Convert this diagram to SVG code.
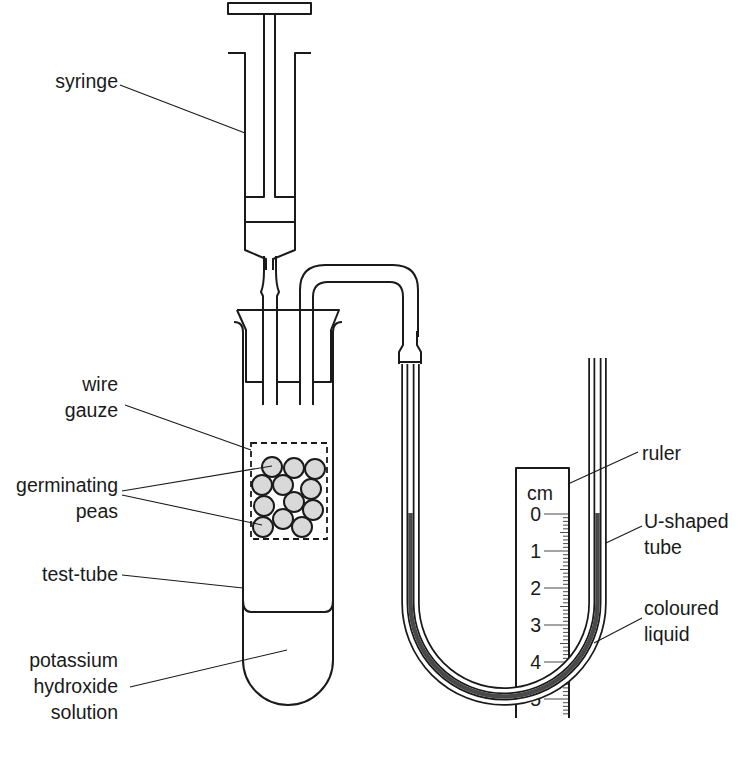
<svg xmlns="http://www.w3.org/2000/svg" width="751" height="759" viewBox="0 0 751 759">
<style>
.l{fill:none;stroke:#1a1a1a;stroke-width:2;stroke-linejoin:round}
.t{font-family:"Liberation Sans",Arial,sans-serif;font-size:19.5px;fill:#1a1a1a}
.ld{fill:none;stroke:#1a1a1a;stroke-width:1.1}
.pea{fill:#d9d9d9;stroke:#1a1a1a;stroke-width:2}
.tk{stroke:#1a1a1a;stroke-width:0.8}
</style>
<rect width="751" height="759" fill="#fff"/>
<g id="syringe">
<rect class="l" x="228" y="3" width="83" height="11"/>
<path class="l" d="M264,14 V197 H245 M275,14 V197 H295"/>
<path class="l" d="M228,53 H245 V250 L266,259 V270 M311,53 H295 V250 L273,259 V270 M245,222 H295"/>
</g>
<g id="delivery-tube">
<path class="l" d="M263,405 V296 L261,292 Q264,285 264,270 V256 M277,405 V296 L279,292 Q276,285 276,270 V256"/>
<path class="l" d="M300,405 V290 Q300,265 325,265 H393 Q418,265 418,290 V337 M313,405 V297 Q313,282 328,282 H390 Q403,282 403,297 V337"/>
<path class="l" d="M403,331 V345 L399,352 V364 M417,331 V345 L421,352 V364 M399,362 H421"/>
</g>
<g id="test-tube">
<path class="l" d="M237,310 H339 L331,330 V382 H313 M300,382 H277 M263,382 H246 V330 L237,310"/>
<path class="l" d="M234,322 Q243,322 243,332 V660 A45,45 0 0 0 333,660 V332 Q333,322 342,322"/>
<path class="l" d="M243,600 Q243,612 251,612 H325 Q333,612 333,600"/>
</g>
<g id="gauze">
<rect x="251" y="443" width="76" height="96" fill="none" stroke="#1a1a1a" stroke-width="1.8" stroke-dasharray="6,4"/>
<circle class="pea" cx="272" cy="467" r="10"/>
<circle class="pea" cx="294" cy="468" r="10"/>
<circle class="pea" cx="315" cy="469" r="10"/>
<circle class="pea" cx="262" cy="485" r="10"/>
<circle class="pea" cx="283" cy="485" r="10"/>
<circle class="pea" cx="311" cy="489" r="10"/>
<circle class="pea" cx="264" cy="506" r="10"/>
<circle class="pea" cx="294" cy="502" r="10"/>
<circle class="pea" cx="313" cy="510" r="10"/>
<circle class="pea" cx="263" cy="527" r="10"/>
<circle class="pea" cx="283" cy="519" r="10"/>
<circle class="pea" cx="302" cy="527" r="10"/>
</g>
<g id="ruler">
<path class="l" d="M516,718 V468 H569 V718"/>
<text class="t" x="527" y="500">cm</text>
<g class="t" text-anchor="end">
<text x="541" y="521">0</text><text x="541" y="558">1</text><text x="541" y="595">2</text><text x="541" y="632">3</text><text x="541" y="669">4</text><text x="541" y="706">5</text>
</g>
<path class="tk" d="M544,514H569M544,551H569M544,588H569M544,625H569M544,662H569M544,699H569"/>
<path class="tk" d="M563,517.7H569M563,521.4H569M563,525.1H569M563,528.8H569M560,532.5H569M563,536.2H569M563,539.9H569M563,543.6H569M563,547.3H569
M563,554.7H569M563,558.4H569M563,562.1H569M563,565.8H569M560,569.5H569M563,573.2H569M563,576.9H569M563,580.6H569M563,584.3H569
M563,591.7H569M563,595.4H569M563,599.1H569M563,602.8H569M560,606.5H569M563,610.2H569M563,613.9H569M563,617.6H569M563,621.3H569
M563,628.7H569M563,632.4H569M563,636.1H569M563,639.8H569M560,643.5H569M563,647.2H569M563,650.9H569M563,654.6H569M563,658.3H569
M563,665.7H569M563,669.4H569M563,673.1H569M563,676.8H569M560,680.5H569M563,684.2H569M563,687.9H569M563,691.6H569M563,695.3H569
M563,702.7H569M563,706.4H569M563,710.1H569M563,713.8H569"/>
</g>
<g id="u-tube">
<path d="M410.5,364 V603 A93.5,93.5 0 0 0 597.5,603 V358" fill="none" stroke="#1a1a1a" stroke-width="18.5"/>
<path d="M410.5,364 V603 A93.5,93.5 0 0 0 597.5,603 V357" fill="none" stroke="#fff" stroke-width="15"/>
<path d="M410.5,364 V603 A93.5,93.5 0 0 0 597.5,603 V358" fill="none" stroke="#1a1a1a" stroke-width="8"/>
<path d="M410.5,364 V603 A93.5,93.5 0 0 0 597.5,603 V357" fill="none" stroke="#fff" stroke-width="4.5"/>
<path d="M410.5,513 V603 A93.5,93.5 0 0 0 597.5,603 V513" fill="none" stroke="#4a4a4a" stroke-width="4.5"/>
</g>
<g id="connectors">
<path class="ld" d="M120,85 L245,133 M125,405 L251,450 M122,491 L272,466 M122,495 L262,525 M122,575 L243,588 M130,687 L287,650 M568,484 L638,452 M606,543 L642,526 M594,643 L642,618"/>
</g>
<g id="labels" class="t">
<text x="118" y="88" text-anchor="end">syringe</text>
<text x="118" y="391" text-anchor="end">wire</text>
<text x="118" y="417" text-anchor="end">gauze</text>
<text x="118" y="492" text-anchor="end">germinating</text>
<text x="118" y="518" text-anchor="end">peas</text>
<text x="118" y="581" text-anchor="end">test-tube</text>
<text x="118" y="667" text-anchor="end">potassium</text>
<text x="118" y="693" text-anchor="end">hydroxide</text>
<text x="118" y="719" text-anchor="end">solution</text>
<text x="642" y="460">ruler</text>
<text x="644" y="528">U-shaped</text>
<text x="644" y="554">tube</text>
<text x="644" y="615">coloured</text>
<text x="644" y="641">liquid</text>
</g>
</svg>
